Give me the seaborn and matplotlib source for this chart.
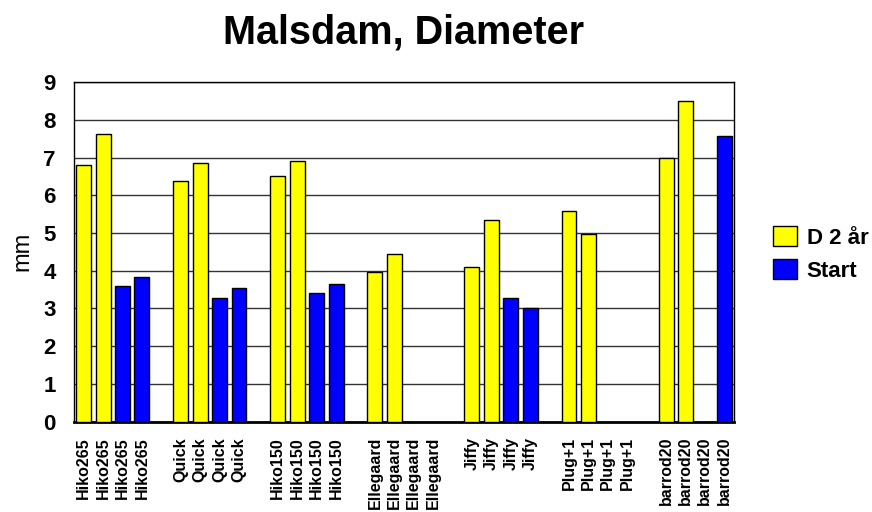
import numpy as np
import pandas as pd
import seaborn as sns
import matplotlib.pyplot as plt

# -------------------- Data --------------------

groups = ["Hiko265", "Quick", "Hiko150", "Ellegaard", "Jiffy", "Plug+1", "barrod20"]
series = ["D 2 år", "Start"]
nan = np.nan

# four plants per group, one bar each (either D 2 år or Start)
d2_ar = [
    [6.80, 7.63, nan, nan],
    [6.38, 6.85, nan, nan],
    [6.51, 6.91, nan, nan],
    [3.97, 4.43, nan, nan],
    [4.11, 5.34, nan, nan],
    [5.59, 4.96, nan, nan],
    [6.99, 8.49, nan, nan],
]
start = [
    [nan, nan, 3.60, 3.84],
    [nan, nan, 3.29, 3.53],
    [nan, nan, 3.40, 3.65],
    [nan, nan, nan, nan],
    [nan, nan, 3.28, 3.00],
    [nan, nan, nan, nan],
    [nan, nan, nan, 7.56],
]
colors = {"D 2 år": "#FFFF00", "Start": "#0000FF"}


def build_frame():
    """Long table: one row per bar, slot = position on the x axis (gap after each group)."""
    rows = []
    for gi, name in enumerate(groups):
        for r in range(4):
            slot = gi * 5 + r
            for s, vals in zip(series, [d2_ar, start]):
                v = vals[gi][r]
                if not np.isnan(v):
                    rows.append({"slot": slot, "mm": v, "serie": s})
    return pd.DataFrame(rows)


def main():
    df = build_frame()
    n_slots = len(groups) * 5 - 1
    tick_labels = []
    for gi, name in enumerate(groups):
        tick_labels += [name] * 4
        if gi < len(groups) - 1:
            tick_labels.append("")

    sns.set_style("white")
    plt.rcParams["font.family"] = ["Liberation Sans", "DejaVu Sans"]
    plt.rcParams["text.color"] = "black"
    plt.rcParams["xtick.color"] = "black"
    plt.rcParams["ytick.color"] = "black"
    plt.rcParams["axes.labelcolor"] = "black"

    fig = plt.figure(figsize=(8.72, 5.12), dpi=100)
    ax = fig.add_axes([0.0849, 0.1764, 0.7568, 0.6634])

    sns.barplot(data=df, x="slot", y="mm", hue="serie", order=list(range(n_slots)),
                hue_order=series, palette=colors, dodge=False, width=0.77, saturation=1,
                errorbar=None, edgecolor="black", linewidth=1, ax=ax, legend=False, zorder=3)

    ax.set_ylim(0, 9)
    ax.set_xlim(-0.5, n_slots - 0.5)
    ax.set_yticks(range(10))
    ax.set_yticklabels([str(i) for i in range(10)], fontsize=16, fontweight="bold")
    ax.set_xticks(range(n_slots))
    ax.set_xticklabels(tick_labels, rotation=90, fontsize=11.5, fontweight="bold")
    ax.tick_params(axis="x", length=0, pad=11)
    ax.tick_params(axis="y", length=3, direction="out", pad=10, color="black")
    ax.set_xlabel("")
    ax.set_ylabel("mm", fontsize=17)
    ax.yaxis.set_label_coords(-0.062, 0.50)

    ax.yaxis.grid(True, color="#333333", linewidth=1)
    ax.set_axisbelow(True)
    for side in ["top", "right", "left"]:
        ax.spines[side].set_color("black")
        ax.spines[side].set_linewidth(1)
    ax.spines["bottom"].set_color("black")
    ax.spines["bottom"].set_linewidth(2)

    ax.set_title("Malsdam, Diameter", fontsize=28.5, fontweight="bold", pad=28)

    handles = [plt.Rectangle((0, 0), 1, 1, facecolor=colors[s], edgecolor="black", linewidth=1)
               for s in series]
    fig.legend(handles, series, loc="center left", bbox_to_anchor=(0.887, 0.504),
               frameon=False, prop={"size": 16, "weight": "bold"},
               handlelength=1.05, handleheight=1.0, handletextpad=0.45,
               labelspacing=0.45, borderpad=0, borderaxespad=0)

    fig.savefig("out.png", dpi=100)


if __name__ == "__main__":
    main()
